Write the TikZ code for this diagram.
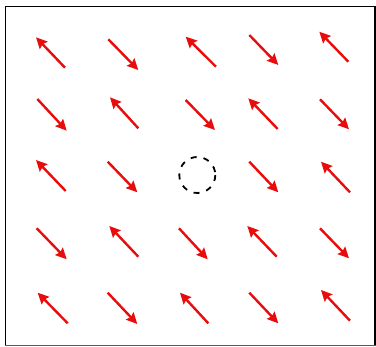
\documentclass[tikz,border=0pt]{standalone}
\usetikzlibrary{arrows.meta}
\begin{document}
\begin{tikzpicture}[x=1pt,y=-1pt,
  vec/.style={draw={rgb,255:red,232;green,12;blue,12}, line width=2.4pt,
    -{Stealth[length=11pt,width=10.5pt,inset=1.5pt]}},
  frame/.style={draw=black, line width=1.6pt},
  hole/.style={draw=black, line width=1.8pt, dash pattern=on 6pt off 7pt}]
\useasboundingbox (0,0) rectangle (376,347);
\draw[frame] (5.5,6.5) -- (375,6.5);
\draw[frame] (5.5,6.5) -- (5.5,345.5);
\draw[line width=1.2pt, draw=black!65] (5.5,345.5) -- (376,345.5);
\draw[frame] (375,6.5) -- (375,345.5);
% row 1
\draw[vec] (65,67.7) -- (36,37.3);
\draw[vec] (108.3,39.3) -- (138.3,70);
\draw[vec] (216,66.7) -- (185.7,36.7);
\draw[vec] (249.3,35) -- (278.3,65);
\draw[vec] (348.3,61.7) -- (319.3,31.7);
% row 2
\draw[vec] (37.3,99) -- (66.7,130.7);
\draw[vec] (138.3,128.3) -- (110,97.3);
\draw[vec] (185.7,100) -- (215,130);
\draw[vec] (277.7,129) -- (248.3,98.3);
\draw[vec] (320,99.3) -- (349,129.3);
% row 3
\draw[vec] (65.7,191) -- (36,160);
\draw[vec] (107.7,161.7) -- (137.3,192.3);
\draw[hole] (197.3,175) circle (18);
\draw[vec] (249.3,161.7) -- (278.3,192.3);
\draw[vec] (350,192.3) -- (321,161.7);
% row 4
\draw[vec] (36.7,228.3) -- (66.7,259.3);
\draw[vec] (138.3,256.7) -- (109.3,226);
\draw[vec] (179,228.3) -- (207.7,259.3);
\draw[vec] (276.7,256.7) -- (247.3,226);
\draw[vec] (320,228.3) -- (349,258.3);
% row 5
\draw[vec] (67.7,323.3) -- (37.7,292.7);
\draw[vec] (107.7,292.7) -- (137.3,324);
\draw[vec] (208.3,323.3) -- (180,292.7);
\draw[vec] (249.3,292.7) -- (278.3,323.3);
\draw[vec] (350,320.7) -- (321,290);
\end{tikzpicture}
\end{document}
